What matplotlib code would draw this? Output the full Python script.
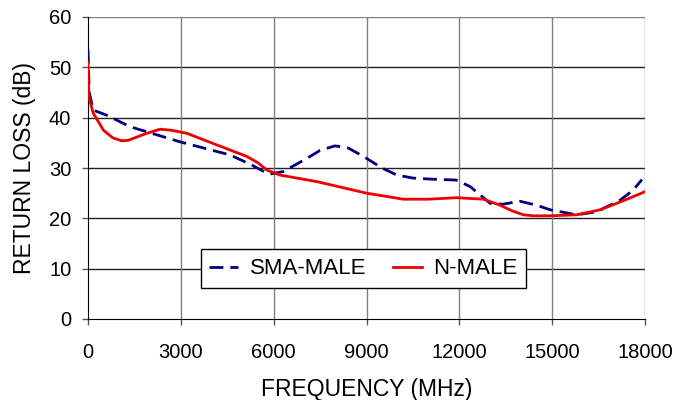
import numpy as np
import matplotlib.pyplot as plt

plt.rcParams['font.family'] = ['Liberation Sans', 'DejaVu Sans']

# =========================
# DATA
# =========================
sma_freq = [0, 40, 170, 600, 1360, 2970, 4590, 5290, 5650, 5880, 6310, 7070, 7500, 7980,
            8400, 8900, 9500, 9980, 10500, 11050, 11900, 12350, 12700, 12990, 13400,
            13960, 14500, 14930, 15790, 16440, 17190, 17600, 17900]
sma_rl = [53.5, 45.0, 41.5, 40.5, 38.2, 35.2, 32.6, 30.6, 29.4, 28.8, 29.3, 31.9, 33.5, 34.4,
          34.0, 32.3, 30.0, 28.6, 28.0, 27.8, 27.6, 26.3, 24.5, 23.0, 22.8,
          23.4, 22.6, 21.7, 20.7, 21.3, 23.6, 25.5, 27.7]

nmale_freq = [0, 30, 170, 500, 800, 1090, 1300, 1600, 1900, 2330, 2700, 3190, 4200,
              5130, 5500, 5780, 6200, 7390, 9000, 10190, 11000, 11910, 12780, 13320,
              13700, 14070, 14400, 14930, 15790, 16550, 17300, 18000]
nmale_rl = [51.0, 44.0, 40.9, 37.5, 36.0, 35.4, 35.5, 36.2, 36.9, 37.7, 37.5, 36.9, 34.5,
            32.3, 31.0, 29.6, 28.6, 27.3, 25.0, 23.8, 23.8, 24.1, 23.8, 22.6,
            21.5, 20.7, 20.5, 20.5, 20.7, 21.7, 23.5, 25.3]

x_ticks = [0, 3000, 6000, 9000, 12000, 15000, 18000]
y_ticks = [0, 10, 20, 30, 40, 50, 60]

# =========================
# PLOT
# =========================
fig = plt.figure(figsize=(6.93, 4.0), dpi=100)
ax = fig.add_axes([0.127, 0.2025, 0.8038, 0.755])

ax.plot(sma_freq, sma_rl, color='#000080', lw=2.0, dashes=(5, 2.5),
        label='SMA-MALE', zorder=3)
ax.plot(nmale_freq, nmale_rl, color='#EE0000', lw=2.0,
        label='N-MALE', zorder=3)

ax.set_xlim(0, 18000)
ax.set_ylim(0, 60)
ax.set_xticks(x_ticks)
ax.set_yticks(y_ticks)

# grid: horizontal dark, vertical gray
for y in y_ticks[1:]:
    ax.axhline(y, color='#222222' if y < 60 else '#808080', lw=1.0, zorder=1)
for x in x_ticks[1:]:
    ax.axvline(x, color='#808080', lw=1.0, zorder=1)

for side in ['top', 'right']:
    ax.spines[side].set_visible(False)
ax.spines['left'].set_color('black')
ax.spines['bottom'].set_color('black')
ax.tick_params(direction='out', length=4, width=1, color='#555555',
               labelsize=14.5)
ax.tick_params(axis='x', pad=13)
ax.tick_params(axis='y', pad=8)

ax.set_xlabel('FREQUENCY (MHz)', fontsize=16.5, labelpad=12)
ax.set_ylabel('RETURN LOSS (dB)', fontsize=16.5, labelpad=9)

leg = ax.legend(loc='center', bbox_to_anchor=(0.494, 0.166), ncol=2,
                fontsize=16, frameon=True, fancybox=False, framealpha=1,
                edgecolor='black', handlelength=1.3, handletextpad=0.5,
                columnspacing=1.2, borderpad=0.4)
leg.get_frame().set_linewidth(1.0)

plt.savefig('out.png', dpi=100)
